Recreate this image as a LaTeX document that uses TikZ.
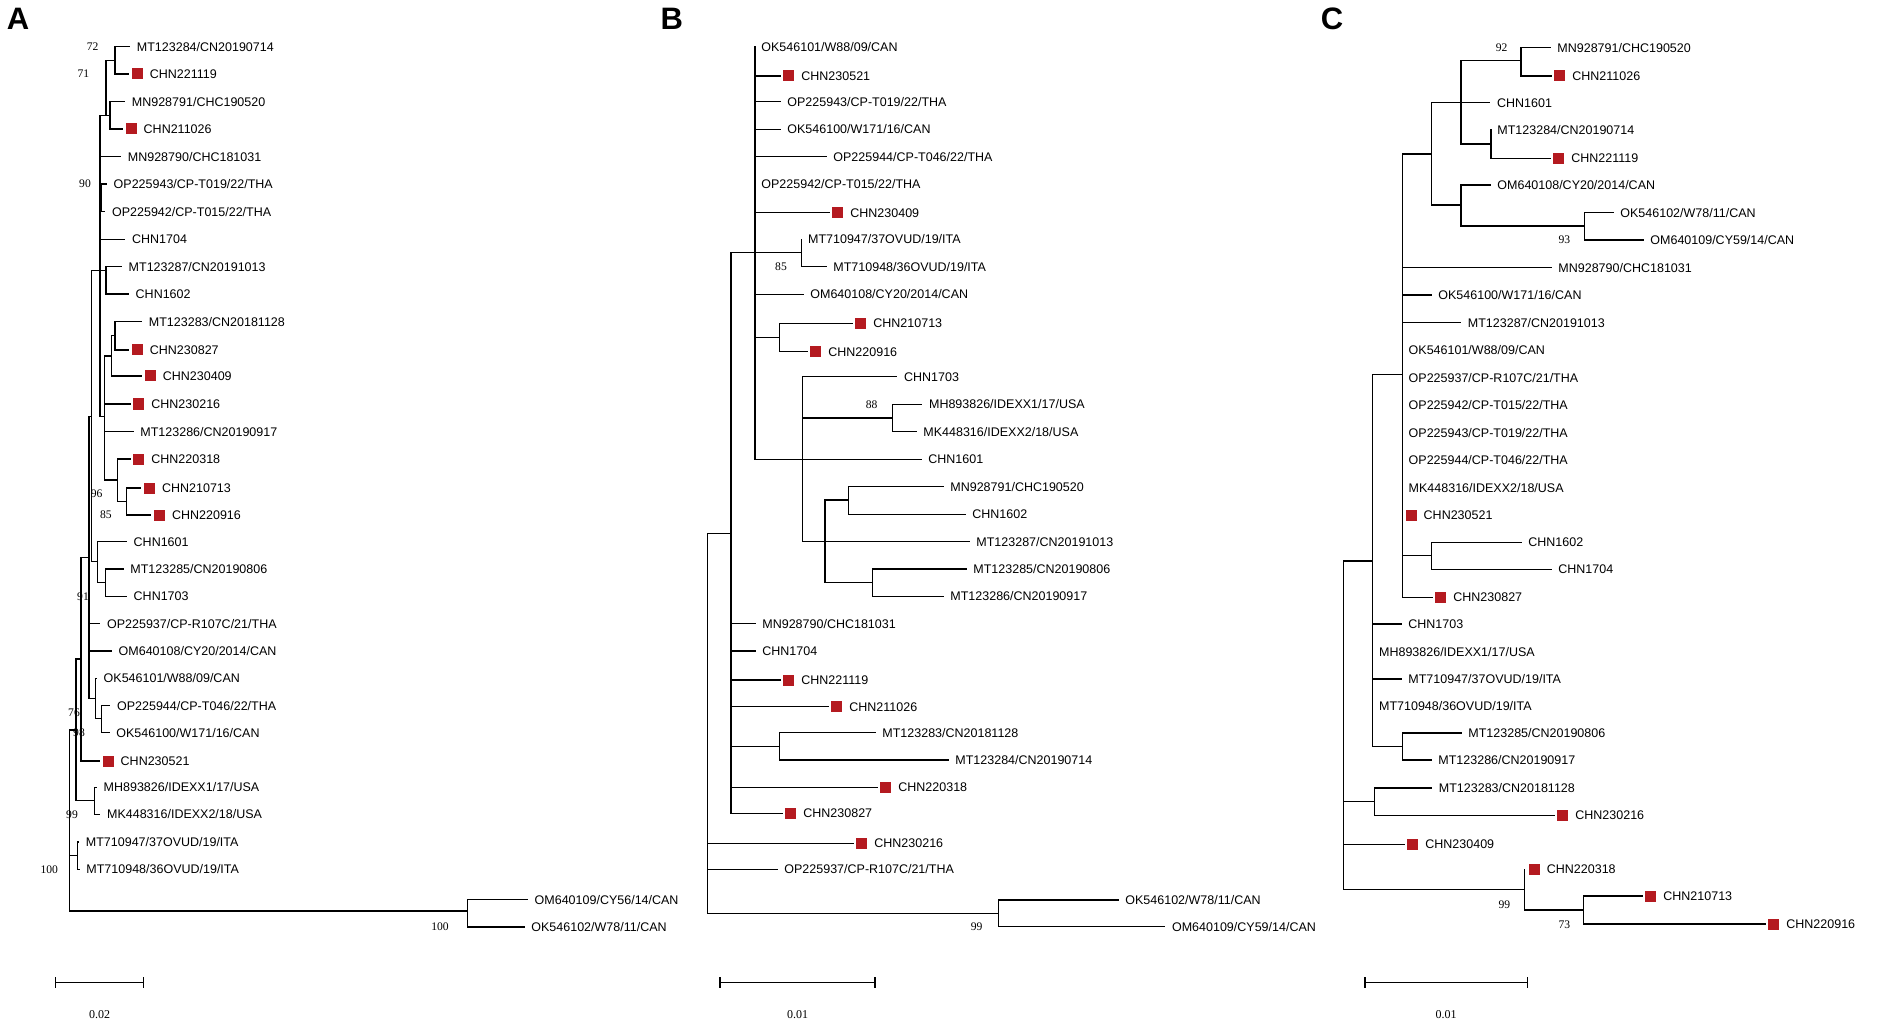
\documentclass[tikz,border=0pt]{standalone}
\usepackage{fontspec}
\setmainfont{Liberation Sans}
\newfontfamily\serifnum{Liberation Serif}
\definecolor{mkred}{RGB}{180,26,32}
\tikzset{
 br/.style={line width=0.55pt, line cap=rect, black},
 lbl/.style={anchor=west, inner sep=0pt, text height=4.5pt, text depth=0pt, font=\fontsize{6.25}{7}\selectfont},
 sqm/.style={fill=mkred, minimum size=5.5pt, inner sep=0pt},
 bst/.style={inner sep=0pt, font=\serifnum\fontsize{5.8}{7}\selectfont},
 panel/.style={inner sep=0pt, font=\bfseries\fontsize{15.5}{18}\selectfont},
}
% leaf with branch: name, xnode, xend, y, text
\newcommand\tleaf[5]{\draw[br] (#2,#4) -- (#3,#4); \node[lbl] (#1) at (#3+7,#4) {#5};}
% leaf with branch and red square
\newcommand\tleafsq[5]{\draw[br] (#2,#4) -- (#3,#4); \node[sqm] (#1s) at (#3+8.7,#4) {}; \node[lbl] (#1) at (#3+21,#4) {#5};}
% label only (zero-length branch): name, x, y, text
\newcommand\tlab[4]{\node[lbl] (#1) at (#2+6,#3) {#4};}
\newcommand\tlabsq[4]{\node[sqm] (#1s) at (#2+8.7,#3) {}; \node[lbl] (#1) at (#2+21,#3) {#4};}
% vertical: x, y1, y2 ; horizontal: x1, x2, y
\newcommand\vb[3]{\draw[br] (#1,#2) -- (#1,#3);}
\newcommand\hb[3]{\draw[br] (#1,#3) -- (#2,#3);}
\newcommand\bsv[3]{\node[bst] (#1) at (#2) {#3};}
\newcommand\sbar[4]{\draw[br] (#2,982.5) -- (#3,982.5); \draw[br] (#2,978) -- (#2,987); \draw[br] (#3,978) -- (#3,987); \node[bst,font=\serifnum\fontsize{6}{7}\selectfont] (#1) at ({(#2+#3)/2},1015) {#4};}

\begin{document}
\begin{tikzpicture}[x=0.5pt,y=-0.5pt]
\fill[white] (0,0) rectangle (1902,1027);
\useasboundingbox (0,0) rectangle (1902,1027);

% ---------------- Panel letters
\node[panel] (pA) at (18,18.5) {A};
\node[panel] (pB) at (671.7,18.5) {B};
\node[panel] (pC) at (1332,18.5) {C};

% ================= PANEL A =================
\vb{115}{46.7}{74}
\tleaf{a1}{115}{129.5}{46.7}{MT123284/CN20190714}
\tleafsq{a2}{115}{128.5}{74}{CHN221119}
\vb{110}{101.7}{129}
\tleaf{a3}{110}{124.5}{101.7}{MN928791/CHC190520}
\tleafsq{a4}{110}{122.3}{129}{CHN211026}
\vb{106}{60.7}{115.3}
\hb{106}{115}{60.7}
\hb{100}{110}{115.3}
\vb{100}{115.3}{416.7}
\tleaf{a5}{100}{120.5}{156.7}{MN928790/CHC181031}
\vb{101.7}{184}{211.7}
\hb{100}{101.7}{198}
\tleaf{a6}{101.7}{106.3}{184}{OP225943/CP-T019/22/THA}
\tleaf{a7}{101.7}{104.7}{211.7}{OP225942/CP-T015/22/THA}
\tleaf{a8}{100}{124.7}{239.3}{CHN1704}
\vb{106}{266.7}{294}
\hb{91.7}{106}{270.7}
\tleaf{a9}{106}{121.3}{266.7}{MT123287/CN20191013}
\tleaf{a10}{106}{128.3}{294}{CHN1602}
\vb{115}{321.7}{350}
\hb{111.7}{115}{335.8}
\tleaf{a11}{115}{141.5}{321.7}{MT123283/CN20181128}
\tleafsq{a12}{115}{128.5}{350}{CHN230827}
\vb{111.7}{335.8}{376}
\hb{104.3}{111.7}{356}
\tleafsq{a13}{111.7}{141.5}{376}{CHN230409}
\vb{104.3}{356}{480}
\hb{100}{104.3}{416.7}
\tleafsq{a14}{104.3}{130}{404}{CHN230216}
\tleaf{a15}{104.3}{133}{431.7}{MT123286/CN20190917}
\vb{117.3}{459}{501.5}
\hb{104.3}{117.3}{480}
\tleafsq{a16}{117.3}{130}{459}{CHN220318}
\vb{126.7}{488}{515}
\hb{117.3}{126.7}{501.5}
\tleafsq{a17}{126.7}{140.7}{488}{CHN210713}
\tleafsq{a18}{126.7}{150.7}{515}{CHN220916}
\vb{91.7}{270.7}{561.7}
\hb{89}{91.7}{416.7}
\vb{97.3}{541.7}{582.7}
\hb{91.7}{97.3}{561.7}
\tleaf{a19}{97.3}{126.3}{541.7}{CHN1601}
\vb{105.3}{569}{596.3}
\hb{97.3}{105.3}{582.7}
\tleaf{a20}{105.3}{123}{569}{MT123285/CN20190806}
\tleaf{a21}{105.3}{126.3}{596.3}{CHN1703}
\vb{89}{416.7}{698.3}
\tleaf{a22}{89}{99.7}{623.7}{OP225937/CP-R107C/21/THA}
\tleaf{a23}{89}{111.3}{651}{OM640108/CY20/2014/CAN}
\vb{95.7}{678.3}{718.3}
\hb{89}{95.7}{698.3}
\tleaf{a24}{95.7}{96.3}{678.3}{OK546101/W88/09/CAN}
\vb{101.7}{705.7}{732.7}
\hb{95.7}{101.7}{718.3}
\tleaf{a25}{101.7}{109.7}{705.7}{OP225944/CP-T046/22/THA}
\tleaf{a26}{101.7}{109}{732.7}{OK546100/W171/16/CAN}
\vb{81}{557.5}{761}
\hb{81}{89}{557.5}
\tleafsq{a27}{81}{99.3}{761}{CHN230521}
\vb{76}{659}{800.7}
\hb{76}{81}{659}
\vb{94.3}{787.3}{814.3}
\hb{76}{94.3}{800.7}
\tleaf{a28}{94.3}{96.3}{787.3}{MH893826/IDEXX1/17/USA}
\tleaf{a29}{94.3}{99.7}{814.3}{MK448316/IDEXX2/18/USA}
\vb{69.3}{730}{911}
\hb{69.3}{76}{730}
\vb{77.7}{842}{869.3}
\hb{69.3}{77.7}{855.7}
\tleaf{a30}{77.7}{78.5}{842}{MT710947/37OVUD/19/ITA}
\tleaf{a31}{77.7}{79}{869.3}{MT710948/36OVUD/19/ITA}
\hb{69.3}{467.3}{911}
\vb{467.3}{899.5}{927}
\tleaf{a32}{467.3}{527.3}{899.5}{OM640109/CY56/14/CAN}
\tleaf{a33}{467.3}{524}{927}{OK546102/W78/11/CAN}
\bsv{ba1}{92.7,46.7}{72}
\bsv{ba2}{83.3,74}{71}
\bsv{ba3}{85,184}{90}
\bsv{ba4}{96.7,493.3}{96}
\bsv{ba5}{106,515}{85}
\bsv{ba6}{83,596.3}{91}
\bsv{ba7}{74,712.7}{76}
\bsv{ba8}{79,732.7}{98}
\bsv{ba9}{72,814.3}{99}
\bsv{ba10}{49.3,869.3}{100}
\bsv{ba11}{440,927}{100}
\sbar{sa}{55.7}{143.3}{0.02}

% ================= PANEL B =================
\vb{755}{46.7}{459.3}
\tlab{b1}{755}{46.7}{OK546101/W88/09/CAN}
\tleafsq{b2}{755}{780}{76}{CHN230521}
\tleaf{b3}{755}{780}{101.7}{OP225943/CP-T019/22/THA}
\tleaf{b4}{755}{780}{129.3}{OK546100/W171/16/CAN}
\tleaf{b5}{755}{826}{156.7}{OP225944/CP-T046/22/THA}
\tlab{b6}{755}{184}{OP225942/CP-T015/22/THA}
\tleafsq{b7}{755}{829}{212.7}{CHN230409}
\vb{801.7}{239.3}{266.7}
\hb{731}{801.7}{252.7}
\tlab{b8}{801.7}{239.3}{MT710947/37OVUD/19/ITA}
\tleaf{b9}{801.7}{826}{266.7}{MT710948/36OVUD/19/ITA}
\tleaf{b10}{755}{803}{294.3}{OM640108/CY20/2014/CAN}
\vb{779.3}{323.3}{351.7}
\hb{755}{779.3}{337.5}
\tleafsq{b11}{779.3}{852}{323.3}{CHN210713}
\tleafsq{b12}{779.3}{807}{351.7}{CHN220916}
\vb{802.7}{376.7}{541.7}
\tleaf{b13}{802.7}{896.7}{376.7}{CHN1703}
\vb{892.7}{404.3}{431.7}
\hb{802.7}{892.7}{418}
\tleaf{b14}{892.7}{921.7}{404.3}{MH893826/IDEXX1/17/USA}
\tleaf{b15}{892.7}{916}{431.7}{MK448316/IDEXX2/18/USA}
\tleaf{b16}{755}{921}{459.3}{CHN1601}
\vb{825}{500}{582.7}
\vb{848.3}{486.7}{514.3}
\hb{825}{848.3}{500}
\tleaf{b17}{848.3}{943}{486.7}{MN928791/CHC190520}
\tleaf{b18}{848.3}{965}{514.3}{CHN1602}
\tleaf{b19}{802.7}{969}{541.7}{MT123287/CN20191013}
\vb{872.7}{569}{596.3}
\hb{825}{872.7}{582.7}
\tleaf{b20}{872.7}{966}{569}{MT123285/CN20190806}
\tleaf{b21}{872.7}{943}{596.3}{MT123286/CN20190917}
\vb{731}{252.7}{813.3}
\hb{707.3}{731}{533.3}
\tleaf{b22}{731}{755}{623.7}{MN928790/CHC181031}
\tleaf{b23}{731}{755}{651}{CHN1704}
\tleafsq{b24}{731}{780}{680}{CHN221119}
\tleafsq{b25}{731}{828}{706.7}{CHN211026}
\vb{779.3}{732.7}{760}
\hb{731}{779.3}{746.3}
\tleaf{b26}{779.3}{875}{732.7}{MT123283/CN20181128}
\tleaf{b27}{779.3}{948}{760}{MT123284/CN20190714}
\tleafsq{b28}{731}{877}{787.3}{CHN220318}
\tleafsq{b29}{731}{782}{813.3}{CHN230827}
\vb{707.3}{533.3}{913.3}
\tleafsq{b30}{707.3}{853}{843.3}{CHN230216}
\tleaf{b31}{707.3}{777}{869.3}{OP225937/CP-R107C/21/THA}
\hb{707.3}{998.3}{913.3}
\vb{998.3}{900}{926.7}
\tleaf{b32}{998.3}{1118}{900}{OK546102/W78/11/CAN}
\tleaf{b33}{998.3}{1164.7}{926.7}{OM640109/CY59/14/CAN}
\bsv{bb1}{781,266.7}{85}
\bsv{bb2}{871.7,404.3}{88}
\bsv{bb3}{976.7,926.7}{99}
\sbar{sb}{720}{875}{0.01}

% ================= PANEL C =================
\vb{1343.3}{561}{889.3}
\vb{1372.7}{374.3}{746.7}
\hb{1343.3}{1372.7}{561}
\vb{1402.3}{154}{597.3}
\hb{1372.7}{1402.3}{374.3}
\vb{1431.7}{102.7}{205}
\hb{1402.3}{1431.7}{154}
\vb{1461}{60.7}{144}
\hb{1431.7}{1461}{102.7}
\vb{1521}{47.7}{76}
\hb{1461}{1521}{60.7}
\tleaf{c1}{1521}{1550}{47.7}{MN928791/CHC190520}
\tleafsq{c2}{1521}{1551}{76}{CHN211026}
\tleaf{c3}{1431.7}{1489.7}{102.7}{CHN1601}
\vb{1491}{130}{158.3}
\hb{1461}{1491}{144}
\tlab{c4}{1491}{130}{MT123284/CN20190714}
\tleafsq{c5}{1491}{1550}{158.3}{CHN221119}
\vb{1461}{185}{226}
\hb{1431.7}{1461}{205}
\tleaf{c6}{1461}{1490}{185}{OM640108/CY20/2014/CAN}
\vb{1584.3}{212.7}{240}
\hb{1461}{1584.3}{226}
\tleaf{c7}{1584.3}{1613}{212.7}{OK546102/W78/11/CAN}
\tleaf{c8}{1584.3}{1643}{240}{OM640109/CY59/14/CAN}
\tleaf{c9}{1402.3}{1551}{267.7}{MN928790/CHC181031}
\tleaf{c10}{1402.3}{1431}{295}{OK546100/W171/16/CAN}
\tleaf{c11}{1402.3}{1460.5}{322.7}{MT123287/CN20191013}
\tlab{c12}{1402.3}{350}{OK546101/W88/09/CAN}
\tlab{c13}{1402.3}{377.7}{OP225937/CP-R107C/21/THA}
\tlab{c14}{1402.3}{405}{OP225942/CP-T015/22/THA}
\tlab{c15}{1402.3}{432.7}{OP225943/CP-T019/22/THA}
\tlab{c16}{1402.3}{460}{OP225944/CP-T046/22/THA}
\tlab{c17}{1402.3}{487.7}{MK448316/IDEXX2/18/USA}
\tlabsq{c18}{1402.3}{515.3}{CHN230521}
\vb{1431.7}{542.3}{569.3}
\hb{1402.3}{1431.7}{555.8}
\tleaf{c19}{1431.7}{1521}{542.3}{CHN1602}
\tleaf{c20}{1431.7}{1551}{569.3}{CHN1704}
\tleafsq{c21}{1402.3}{1432}{597.3}{CHN230827}
\tleaf{c22}{1372.7}{1401}{624}{CHN1703}
\tlab{c23}{1372.7}{651.7}{MH893826/IDEXX1/17/USA}
\tleaf{c24}{1372.7}{1401}{679}{MT710947/37OVUD/19/ITA}
\tlab{c25}{1372.7}{706}{MT710948/36OVUD/19/ITA}
\vb{1402.3}{733}{760}
\hb{1372.7}{1402.3}{746.7}
\tleaf{c26}{1402.3}{1461}{733}{MT123285/CN20190806}
\tleaf{c27}{1402.3}{1431}{760}{MT123286/CN20190917}
\vb{1374.3}{788}{815.3}
\hb{1343.3}{1374.3}{801.7}
\tleaf{c28}{1374.3}{1431.5}{788}{MT123283/CN20181128}
\tleafsq{c29}{1374.3}{1554}{815.3}{CHN230216}
\tleafsq{c30}{1343.3}{1404}{844.3}{CHN230409}
\vb{1524.3}{869.3}{910}
\hb{1343.3}{1524.3}{889.3}
\tlabsq{c31}{1525.5}{869.3}{CHN220318}
\vb{1583.3}{896}{924}
\hb{1524.3}{1583.3}{910}
\tleafsq{c32}{1583.3}{1642}{896}{CHN210713}
\tleafsq{c33}{1583.3}{1765}{924}{CHN220916}
\bsv{bc1}{1501.7,47.7}{92}
\bsv{bc2}{1564.3,240}{93}
\bsv{bc3}{1504.3,904.3}{99}
\bsv{bc4}{1564.3,925}{73}
\sbar{sc}{1365}{1527.3}{0.01}
\end{tikzpicture}
\end{document}
